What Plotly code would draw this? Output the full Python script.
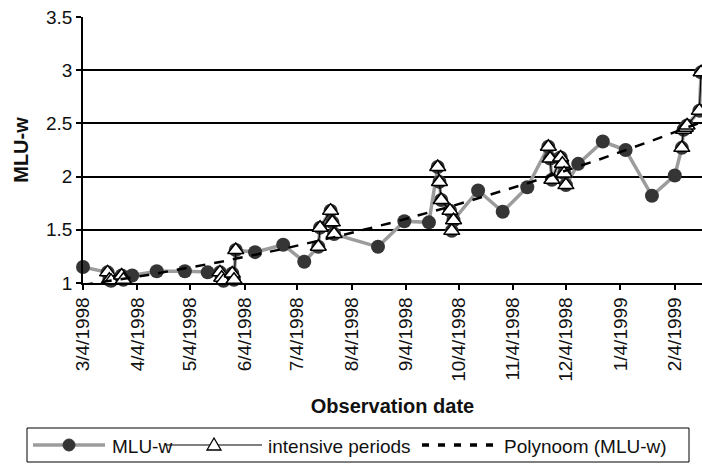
import numpy as np
import pandas as pd
import plotly.graph_objects as go

# Observation dates and MLU-w values (all sessions)
obs_dates = [
    "1998-03-04", "1998-03-18", "1998-03-19", "1998-03-20", "1998-03-26", "1998-03-27",
    "1998-04-01", "1998-04-15", "1998-05-01", "1998-05-14",
    "1998-05-21", "1998-05-22", "1998-05-23", "1998-05-28", "1998-05-29", "1998-05-30",
    "1998-06-10", "1998-06-26", "1998-07-08",
    "1998-07-16", "1998-07-17", "1998-07-23", "1998-07-24", "1998-07-25",
    "1998-08-19", "1998-09-03", "1998-09-17",
    "1998-09-22", "1998-09-23", "1998-09-24", "1998-09-29", "1998-09-30", "1998-10-01",
    "1998-10-15", "1998-10-29", "1998-11-12",
    "1998-11-24", "1998-11-25", "1998-11-26", "1998-12-01", "1998-12-02", "1998-12-03", "1998-12-04",
    "1998-12-11", "1998-12-25", "1999-01-07", "1999-01-22", "1999-02-04",
    "1999-02-08", "1999-02-09", "1999-02-10", "1999-02-11", "1999-02-18", "1999-02-19",
]
mlu_w = [
    1.15, 1.10, 1.03, 1.02, 1.07, 1.03,
    1.07, 1.11, 1.11, 1.10,
    1.10, 1.05, 1.02, 1.09, 1.03, 1.31,
    1.29, 1.36, 1.20,
    1.34, 1.52, 1.68, 1.57, 1.46,
    1.34, 1.58, 1.57,
    2.09, 1.95, 1.78, 1.68, 1.49, 1.59,
    1.87, 1.67, 1.90,
    2.28, 2.17, 1.97, 2.18, 2.12, 2.03, 1.92,
    2.12, 2.33, 2.25, 1.82, 2.01,
    2.27, 2.44, 2.46, 2.48, 2.62, 2.98,
]
# Sessions belonging to the intensive observation periods (None = regular session)
intensive = [
    None, 1.10, 1.03, 1.02, 1.07, 1.03,
    None, None, None, None,
    1.10, 1.05, 1.02, 1.09, 1.03, 1.31,
    None, None, None,
    1.34, 1.52, 1.68, 1.57, 1.46,
    None, None, None,
    2.09, 1.95, 1.78, 1.68, 1.49, 1.59,
    None, None, None,
    2.28, 2.17, 1.97, 2.18, 2.12, 2.03, 1.92,
    None, None, None, None, None,
    2.27, 2.44, 2.46, 2.48, 2.62, 2.98,
]

tick_dates = ["1998-03-04", "1998-04-04", "1998-05-04", "1998-06-04", "1998-07-04",
              "1998-08-04", "1998-09-04", "1998-10-04", "1998-11-04", "1998-12-04",
              "1999-01-04", "1999-02-04"]
tick_labels = ["3/4/1998", "4/4/1998", "5/4/1998", "6/4/1998", "7/4/1998", "8/4/1998",
               "9/4/1998", "10/4/1998", "11/4/1998", "12/4/1998", "1/4/1999", "2/4/1999"]

legend_labels = ["MLU-w", "intensive periods", "Polynoom (MLU-w)"]

# Second-order polynomial trend fitted to MLU-w
d = pd.to_datetime(obs_dates)
t0 = d[0]
days = np.array([(x - t0).days for x in d], dtype=float)
coef = np.polyfit(days, np.array(mlu_w), 2)
trend_days = np.arange(0, days[-1] + 1)
trend_dates = [t0 + pd.Timedelta(days=float(k)) for k in trend_days]
trend_vals = np.polyval(coef, trend_days)

FONT = "Liberation Sans, Arial, sans-serif"
W, H = 702, 464
ML, MR, MT, MB = 83, 0, 17, 181
PW, PH = W - ML - MR, H - MT - MB

GRAY = "#9c9c9c"
DOT = "#353535"

fig = go.Figure()
fig.add_trace(go.Scatter(
    x=obs_dates, y=mlu_w, name=legend_labels[0], mode="lines+markers",
    line=dict(color=GRAY, width=3.5),
    marker=dict(symbol="circle", size=14, color=DOT),
    cliponaxis=False, showlegend=False,
))
fig.add_trace(go.Scatter(
    x=obs_dates, y=intensive, name=legend_labels[1], mode="lines+markers",
    connectgaps=False,
    line=dict(color="black", width=1.2),
    marker=dict(symbol="triangle-up", size=14, color="white",
                line=dict(color="black", width=1.5)),
    cliponaxis=False, showlegend=False,
))
fig.add_trace(go.Scatter(
    x=trend_dates, y=trend_vals, name=legend_labels[2], mode="lines",
    line=dict(color="black", width=2.5, dash="10px,9px"),
    showlegend=False,
))


# --- boxed legend below the chart (pixel layout converted to paper units) ---
def px(xp):
    return (xp - ML) / PW


def py(yp):
    return (H - MB - yp) / PH


shapes = []
annotations = []
ly = 445
shapes.append(dict(type="rect", xref="paper", yref="paper",
                   x0=px(27), x1=px(689), y0=py(428), y1=py(462),
                   line=dict(color="black", width=1), fillcolor="white", layer="above"))
# MLU-w sample
shapes.append(dict(type="line", xref="paper", yref="paper", x0=px(33), x1=px(105),
                   y0=py(ly), y1=py(ly), line=dict(color=GRAY, width=3.5), layer="above"))
shapes.append(dict(type="circle", xref="paper", yref="paper", x0=px(63), x1=px(75),
                   y0=py(ly - 6), y1=py(ly + 6), line=dict(color=DOT, width=1),
                   fillcolor=DOT, layer="above"))
# intensive periods sample
shapes.append(dict(type="line", xref="paper", yref="paper", x0=px(166), x1=px(262),
                   y0=py(ly), y1=py(ly), line=dict(color="black", width=1.2), layer="above"))
shapes.append(dict(type="path", xref="paper", yref="paper",
                   path="M {a},{b} L {c},{d} L {e},{f} Z".format(
                       a=px(214), b=py(ly - 7), c=px(207), d=py(ly + 5),
                       e=px(221), f=py(ly + 5)),
                   line=dict(color="black", width=1.3), fillcolor="white", layer="above"))
# polynomial trend sample
shapes.append(dict(type="line", xref="paper", yref="paper", x0=px(422), x1=px(498),
                   y0=py(ly), y1=py(ly), line=dict(color="black", width=3.5, dash="7px,9px"),
                   layer="above"))
for xt, txt in zip([110, 266, 502], legend_labels):
    annotations.append(dict(xref="paper", yref="paper", x=px(xt), y=py(ly + 1),
                            xanchor="left", yanchor="middle", showarrow=False,
                            text=txt, font=dict(family=FONT, size=19, color="#111111")))

fig.update_layout(
    width=W, height=H,
    margin=dict(l=ML, r=MR, t=MT, b=MB),
    paper_bgcolor="white", plot_bgcolor="white",
    font=dict(family=FONT, color="#111111"),
    showlegend=False,
    shapes=shapes, annotations=annotations,
    xaxis=dict(
        type="date", range=["1998-03-04", "1999-02-19 12:00"],
        tickmode="array", tickvals=tick_dates, ticktext=tick_labels,
        tickangle=-90, tickfont=dict(size=19),
        ticks="outside", ticklen=5, tickcolor="black", tickwidth=1.5,
        showline=True, linecolor="black", linewidth=1.5,
        showgrid=False, zeroline=False,
        title=dict(text="<b>Observation date</b>", font=dict(size=20), standoff=18),
    ),
    yaxis=dict(
        range=[1, 3.5], dtick=0.5, tick0=1,
        tickfont=dict(size=19),
        ticks="outside", ticklen=5, tickcolor="black", tickwidth=1.5,
        showline=True, linecolor="black", linewidth=1.5,
        showgrid=True, gridcolor="black", gridwidth=1.5, zeroline=False,
        title=dict(text="<b>MLU-w</b>", font=dict(size=20), standoff=12),
    ),
)

fig.write_html("out.html")
